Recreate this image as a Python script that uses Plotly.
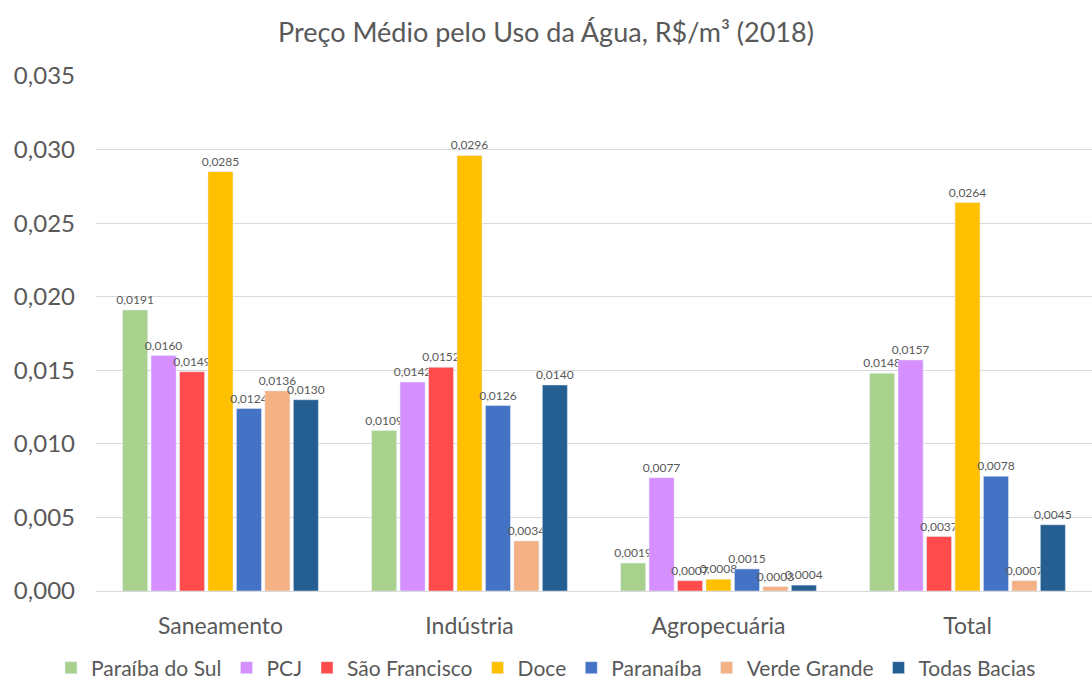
import plotly.graph_objects as go

categories = ["Saneamento", "Indústria", "Agropecuária", "Total"]
series_names = ["Paraíba do Sul", "PCJ", "São Francisco", "Doce", "Paranaíba", "Verde Grande", "Todas Bacias"]
paraiba = [0.0191, 0.0109, 0.0019, 0.0148]
pcj = [0.0160, 0.0142, 0.0077, 0.0157]
sao_francisco = [0.0149, 0.0152, 0.0007, 0.0037]
doce = [0.0285, 0.0296, 0.0008, 0.0264]
paranaiba = [0.0124, 0.0126, 0.0015, 0.0078]
verde_grande = [0.0136, 0.0034, 0.0003, 0.0007]
todas = [0.0130, 0.0140, 0.0004, 0.0045]
colors = ["#A9D18E", "#D68FFF", "#FF4B4B", "#FFC000", "#4472C4", "#F4B183", "#255E91"]
y_ticks = [0, 0.005, 0.010, 0.015, 0.020, 0.025, 0.030, 0.035]

values = [paraiba, pcj, sao_francisco, doce, paranaiba, verde_grande, todas]
FONT = "Lato, Open Sans, sans-serif"
GREY = "#595959"

fig = go.Figure()
for name, vals, c in zip(series_names, values, colors):
    fig.add_trace(go.Bar(
        x=categories, y=vals, name=name, marker_color=c,
        text=[f"{v:.4f}".replace(".", ",") for v in vals],
        textposition="outside", constraintext="none", cliponaxis=False,
        textfont=dict(size=12, color=GREY, family=FONT),
    ))

fig.update_layout(
    width=1092, height=680,
    paper_bgcolor="white", plot_bgcolor="white",
    separators=",.",
    barmode="group", bargap=0.2, bargroupgap=0.12,
    margin=dict(l=96, r=0, t=76, b=89),
    title=dict(text="Preço Médio pelo Uso da Água, R$/m³ (2018)", x=0.5, xanchor="center",
               y=1 - 33/680, yanchor="middle", automargin=False,
               font=dict(size=27, color=GREY, family=FONT)),
    font=dict(family=FONT, color=GREY),
    xaxis=dict(tickfont=dict(size=23, color=GREY), showline=True, linecolor="#D9D9D9",
               ticks="", ticklabelstandoff=14, automargin=False),
    yaxis=dict(range=[0, 0.035], tickvals=y_ticks, tickformat=".3f",
               tickfont=dict(size=24, color=GREY), automargin=False,
               showgrid=True, gridcolor="#D9D9D9", zeroline=False, ticks="", ticklabelstandoff=20),
    legend=dict(orientation="h", x=0.5, xanchor="center", xref="container",
                y=12/680, yanchor="middle", yref="container",
                font=dict(size=21, color=GREY), itemwidth=30, tracegroupgap=0),
)
fig.write_html("out.html", config={"displayModeBar": False},
               post_script="document.body.style.margin='0';")
